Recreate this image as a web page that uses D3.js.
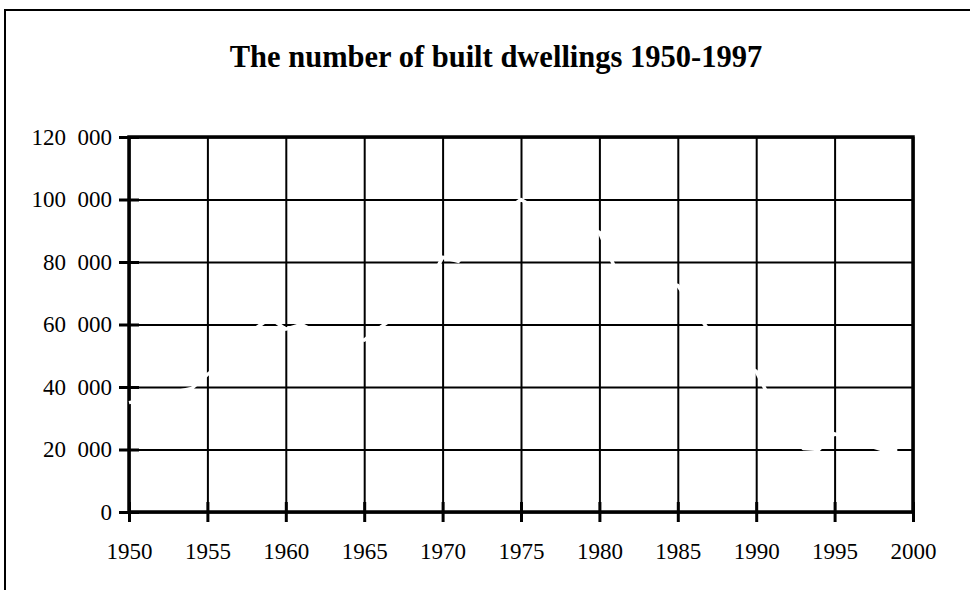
<!DOCTYPE html>
<html>
<head>
<meta charset="utf-8">
<script src="https://cdn.jsdelivr.net/npm/d3@7"></script>
<style>
  body { margin: 0; background: #fff; }
  text { font-family: "Liberation Serif", "Times New Roman", serif; fill: #000; }
</style>
</head>
<body>
<script>
// built dwellings per year (the line is drawn in white, it shows only where it cuts the grid)
var years = [1950, 1951, 1952, 1953, 1954, 1955, 1956, 1957, 1958, 1959,
             1960, 1961, 1962, 1963, 1964, 1965, 1966, 1967, 1968, 1969,
             1970, 1971, 1972, 1973, 1974, 1975, 1976, 1977, 1978, 1979,
             1980, 1981, 1982, 1983, 1984, 1985, 1986, 1987, 1988, 1989,
             1990, 1991, 1992, 1993, 1994, 1995, 1996, 1997, 1998, 1999];
var dwellings = [35000, 36000, 37000, 38500, 39500, 44000, 48000, 52000, 58500, 62000,
                 58500, 60000, 57500, 56000, 55500, 55000, 59000, 62500, 66000, 72000,
                 81500, 80200, 86000, 92000, 96500, 100000, 97000, 95000, 93000, 92000,
                 89500, 78000, 74000, 73000, 74000, 72500, 65000, 58000, 52000, 48000,
                 45000, 35000, 27000, 20300, 20000, 25000, 23000, 21500, 20000, 20000];
var xTicks = [1950, 1955, 1960, 1965, 1970, 1975, 1980, 1985, 1990, 1995, 2000];
var yTicks = [0, 20000, 40000, 60000, 80000, 100000, 120000];
var title = "The number of built dwellings 1950-1997";

var W = 970, H = 590;
var pLeft = 129, pRight = 913, pTop = 137, pBottom = 512;

var svg = d3.select("body").append("svg")
    .attr("width", W)
    .attr("height", H);

// outer chart frame (runs off the right and bottom of the picture)
svg.append("path")
    .attr("d", "M5," + (H + 5) + " V10 H" + (W + 10))
    .attr("fill", "none")
    .attr("stroke", "#000")
    .attr("stroke-width", 2);

svg.append("text")
    .attr("x", 496)
    .attr("y", 67)
    .attr("text-anchor", "middle")
    .style("font-size", "30.5px")
    .style("font-weight", "bold")
    .text(title);

var x = d3.scaleLinear().domain([1950, 2000]).range([pLeft, pRight]);
var y = d3.scaleLinear().domain([0, 120000]).range([pBottom, pTop]);

// en space between the thousands
var fmt = d3.formatLocale({decimal: ",", thousands: "\u2002", grouping: [3], currency: ["", ""]}).format(",d");

// grid
svg.append("g")
    .attr("class", "grid")
    .attr("transform", "translate(" + pLeft + ",0)")
    .call(d3.axisLeft(y).tickValues(yTicks).tickSize(-(pRight - pLeft)).tickFormat(""))
    .call(g => g.select(".domain").remove())
    .selectAll("line").attr("stroke", "#000").attr("stroke-width", 2);

svg.append("g")
    .attr("class", "grid")
    .attr("transform", "translate(0," + pBottom + ")")
    .call(d3.axisBottom(x).tickValues(xTicks).tickSize(-(pBottom - pTop)).tickFormat(""))
    .call(g => g.select(".domain").remove())
    .selectAll("line").attr("stroke", "#000").attr("stroke-width", 2);

// plot frame
svg.append("rect")
    .attr("x", pLeft)
    .attr("y", pTop)
    .attr("width", pRight - pLeft)
    .attr("height", pBottom - pTop)
    .attr("fill", "none")
    .attr("stroke", "#000")
    .attr("stroke-width", 3.5);

// cross ticks on the axes
svg.append("g")
    .attr("transform", "translate(" + (pLeft + 10) + ",0)")
    .call(d3.axisLeft(y).tickValues(yTicks).tickSize(20).tickFormat(""))
    .call(g => g.select(".domain").remove())
    .selectAll("line").attr("stroke", "#000").attr("stroke-width", 3);

svg.append("g")
    .attr("transform", "translate(0," + (pBottom - 10) + ")")
    .call(d3.axisBottom(x).tickValues(xTicks).tickSize(20).tickFormat(""))
    .call(g => g.select(".domain").remove())
    .selectAll("line").attr("stroke", "#000").attr("stroke-width", 3);

// tick labels
var yAxis = svg.append("g")
    .attr("transform", "translate(" + pLeft + ",0)")
    .call(d3.axisLeft(y).tickValues(yTicks).tickSize(0).tickPadding(17).tickFormat(fmt));
yAxis.select(".domain").remove();
yAxis.selectAll("text")
    .style("font-family", "Liberation Serif")
    .style("font-size", "23px");

var xAxis = svg.append("g")
    .attr("transform", "translate(0," + pBottom + ")")
    .call(d3.axisBottom(x).tickValues(xTicks).tickSize(0).tickPadding(31).tickFormat(d3.format("d")));
xAxis.select(".domain").remove();
xAxis.selectAll("text")
    .style("font-family", "Liberation Serif")
    .style("font-size", "23px");

// the white data line
var line = d3.line()
    .x((d, i) => x(years[i]))
    .y(d => y(d));

svg.append("path")
    .datum(dwellings)
    .attr("d", line)
    .attr("fill", "none")
    .attr("stroke", "#fff")
    .attr("stroke-width", 3.5)
    .attr("stroke-linejoin", "round");
</script>
</body>
</html>
